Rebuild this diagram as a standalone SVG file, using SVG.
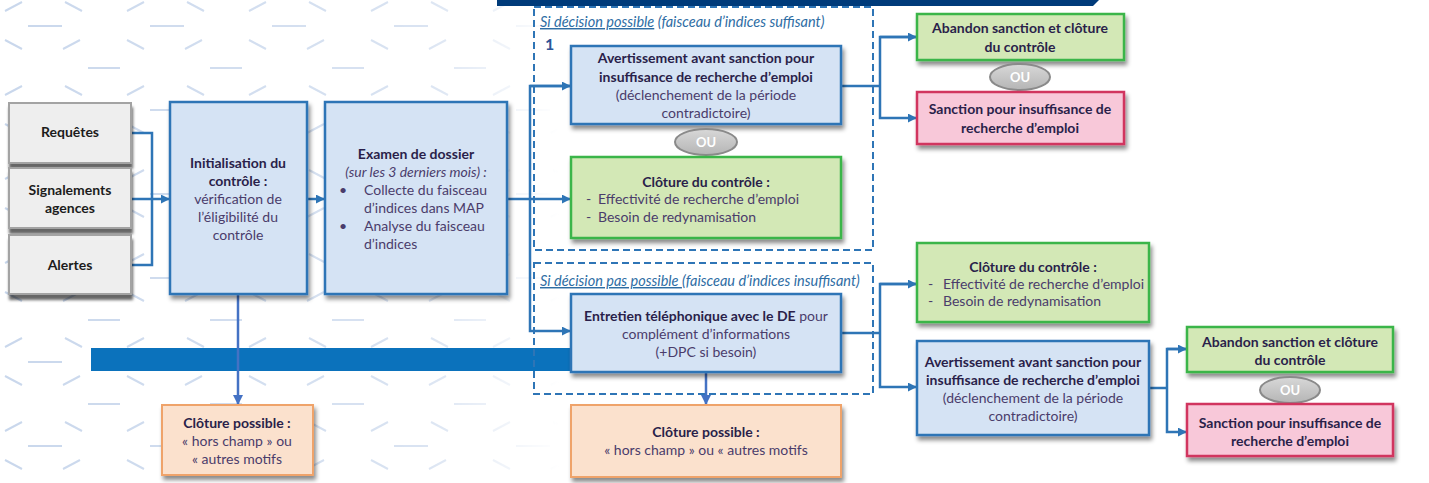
<svg xmlns="http://www.w3.org/2000/svg" width="1429" height="483" viewBox="0 0 1429 483">
<defs>
<style>
text{font-family:Lato,"Open Sans","Liberation Sans",sans-serif;font-size:14px;fill:#4a3c6b}
.b{font-weight:bold;fill:#2a1f4a}
.c{text-anchor:middle}
.g{fill:#1c1c1c;font-weight:bold}
.i{font-style:italic;font-size:14.5px;fill:#2e6da4}
.u{text-decoration:underline}
.gray{fill:#eeeeee;stroke:#a3a3a3;stroke-width:2}
.blue{fill:#d5e3f4;stroke:#2e75b6;stroke-width:2.5}
.green{fill:#d3e8b6;stroke:#3bb54a;stroke-width:2.5}
.pink{fill:#f8c8d9;stroke:#d1345f;stroke-width:2.5}
.peach{fill:#fbe1cd;stroke:#efa36a;stroke-width:2}
.dash{fill:none;stroke:#2e75b6;stroke-width:2;stroke-dasharray:7 4}
.con{fill:none;stroke:#2e75b6;stroke-width:2.5}
.ou{fill:url(#ouGrad);stroke:#8a8a8a;stroke-width:2}
.out{fill:#ffffff;font-weight:bold;font-size:13px;text-anchor:middle}
</style>
<filter id="sh" x="-10%" y="-10%" width="125%" height="135%">
<feDropShadow dx="2" dy="4" stdDeviation="2" flood-color="#000" flood-opacity="0.45"/>
</filter>
<filter id="shg" x="-10%" y="-10%" width="125%" height="140%">
<feDropShadow dx="1" dy="5" stdDeviation="1.5" flood-color="#000" flood-opacity="0.6"/>
</filter>
<linearGradient id="ouGrad" x1="0" y1="0" x2="0" y2="1">
<stop offset="0" stop-color="#d8d8d8"/>
<stop offset="1" stop-color="#b5b5b5"/>
</linearGradient>
<marker id="ar" viewBox="0 0 10 10" refX="9" refY="5" markerWidth="3.6" markerHeight="3.6" orient="auto" markerUnits="strokeWidth">
<path d="M0,0 L10,5 L0,10 z" fill="#2e75b6"/>
</marker>
<marker id="ar2" viewBox="0 0 10 10" refX="9" refY="5" markerWidth="4" markerHeight="4" orient="auto" markerUnits="strokeWidth">
<path d="M0,0 L10,5 L0,10 z" fill="#4472c4"/>
</marker>
<pattern id="chev" x="0" y="0" width="122" height="84" patternUnits="userSpaceOnUse">
<g stroke="#c9d7ec" stroke-width="2" fill="none">
<line x1="5" y1="11" x2="22" y2="2"/>
<line x1="65" y1="2" x2="82" y2="11"/>
<line x1="28" y1="26" x2="62" y2="26"/>
<line x1="5" y1="40" x2="22" y2="49"/>
<line x1="63" y1="49" x2="80" y2="40"/>
<line x1="88" y1="68" x2="120" y2="68"/>
</g>
</pattern>
<linearGradient id="fadeG" x1="0" y1="0" x2="1" y2="0">
<stop offset="0" stop-color="#fff" stop-opacity="1"/>
<stop offset="0.75" stop-color="#fff" stop-opacity="0.7"/>
<stop offset="1" stop-color="#fff" stop-opacity="0"/>
</linearGradient>
<mask id="fade">
<rect x="0" y="0" width="560" height="483" fill="url(#fadeG)"/>
</mask>
</defs>

<rect x="0" y="0" width="1429" height="483" fill="#ffffff"/>
<g id="background">
<rect x="0" y="0" width="560" height="483" fill="url(#chev)" mask="url(#fade)"/>
<polygon points="497,0 1099,0 1093,6 497,6" fill="#003b7a"/>
<rect x="91" y="348" width="482" height="23" fill="#0b72bc"/>
</g>

<g id="groups">
<g id="group-possible">
<rect class="dash" x="534" y="7" width="339" height="243"/>
<text x="540" y="27" class="i"><tspan class="u">Si décision possible</tspan> (faisceau d’indices suffisant)</text>
<text x="545" y="50" style="font-size:16px;font-weight:bold;fill:#2e5597">1</text>
</g>
<g id="group-pas-possible">
<rect class="dash" x="534" y="263" width="339" height="131"/>
<text x="540" y="286" class="i"><tspan class="u">Si décision pas possible </tspan>(faisceau d’indices insuffisant)</text>
</g>
</g>

<g id="connectors">
<polyline class="con" points="131,133 152,133 152,265 131,265"/>
<line class="con" x1="131" y1="199" x2="169" y2="199" marker-end="url(#ar)"/>
<line class="con" x1="307" y1="199" x2="324" y2="199" marker-end="url(#ar)"/>
<line class="con" x1="507" y1="199" x2="570" y2="199" marker-end="url(#ar)"/>
<polyline class="con" points="570,86 530,86 530,331 570,331" marker-end="url(#ar)"/>
<line class="con" x1="530" y1="86" x2="570" y2="86" marker-end="url(#ar)"/>
<polyline class="con" points="841,86 880,86"/>
<polyline class="con" points="916,37 880,37 880,118 916,118" marker-end="url(#ar)"/>
<line class="con" x1="880" y1="37" x2="916" y2="37" marker-end="url(#ar)"/>
<line class="con" x1="841" y1="333" x2="880" y2="333"/>
<polyline class="con" points="916,284 880,284 880,387 916,387" marker-end="url(#ar)"/>
<line class="con" x1="880" y1="284" x2="916" y2="284" marker-end="url(#ar)"/>
<line class="con" x1="1149" y1="388" x2="1167" y2="388"/>
<polyline class="con" points="1186,349 1167,349 1167,432 1186,432" marker-end="url(#ar)"/>
<line class="con" x1="1167" y1="349" x2="1186" y2="349" marker-end="url(#ar)"/>
<line x1="238" y1="294" x2="238" y2="404" stroke="#4472c4" stroke-width="2.5" marker-end="url(#ar2)"/>
<line x1="706" y1="372" x2="706" y2="404" stroke="#4472c4" stroke-width="2.5" marker-end="url(#ar2)"/>
</g>

<g id="n-requetes">
<rect class="gray" x="9" y="103" width="122" height="60" filter="url(#shg)"/>
<text x="70" y="137" class="g c">Requêtes</text>
</g>
<g id="n-signalements">
<rect class="gray" x="9" y="168" width="122" height="60" filter="url(#shg)"/>
<text x="70" y="195" class="g c">Signalements</text>
<text x="70" y="213" class="g c">agences</text>
</g>
<g id="n-alertes">
<rect class="gray" x="9" y="235" width="122" height="59" filter="url(#shg)"/>
<text x="70" y="270" class="g c">Alertes</text>
</g>

<g id="n-initialisation">
<rect class="blue" x="170" y="102" width="137" height="192" filter="url(#sh)"/>
<text x="238" y="168" class="b c">Initialisation du</text>
<text x="238" y="186" class="b c">contrôle :</text>
<text x="238" y="204" class="c">vérification de</text>
<text x="238" y="222" class="c">l’éligibilité du</text>
<text x="238" y="240" class="c">contrôle</text>
</g>

<g id="n-examen">
<rect class="blue" x="325" y="102" width="182" height="192" filter="url(#sh)"/>
<text x="416" y="159" class="b c">Examen de dossier</text>
<text x="416" y="177" class="c" style="font-style:italic">(sur les 3 derniers mois) :</text>
<text x="339" y="195">•</text>
<text x="364" y="195">Collecte du faisceau</text>
<text x="364" y="213">d’indices dans MAP</text>
<text x="339" y="231">•</text>
<text x="364" y="231">Analyse du faisceau</text>
<text x="364" y="249">d’indices</text>
</g>

<g id="n-cloture-possible-1">
<rect class="peach" x="162" y="405" width="151" height="70" filter="url(#sh)"/>
<text x="237" y="428" class="b c">Clôture possible :</text>
<text x="237" y="446" class="c">« hors champ » ou</text>
<text x="237" y="464" class="c">« autres motifs</text>
</g>

<g id="n-avertissement-1">
<rect class="blue" x="571" y="46" width="270" height="78" filter="url(#sh)"/>
<text x="706" y="63" class="b c">Avertissement avant sanction pour</text>
<text x="706" y="82" class="b c">insuffisance de recherche d’emploi</text>
<text x="706" y="100" class="c">(déclenchement de la période</text>
<text x="706" y="118" class="c">contradictoire)</text>
</g>
<g id="n-ou-1">
<ellipse class="ou" cx="706" cy="142" rx="31" ry="13"/>
<text x="706" y="146.5" class="out">OU</text>
</g>
<g id="n-cloture-1">
<rect class="green" x="571" y="157" width="270" height="81" filter="url(#sh)"/>
<text x="706" y="187" class="b c">Clôture du contrôle :</text>
<text x="586" y="204">-</text>
<text x="598" y="204">Effectivité de recherche d’emploi</text>
<text x="586" y="222">-</text>
<text x="598" y="222">Besoin de redynamisation</text>
</g>

<g id="n-entretien">
<rect class="blue" x="571" y="294" width="270" height="78" filter="url(#sh)"/>
<text x="706" y="321" class="c"><tspan class="b">Entretien téléphonique avec le DE</tspan> pour</text>
<text x="706" y="339" class="c">complément d’informations</text>
<text x="706" y="357" class="c">(+DPC si besoin)</text>
</g>

<g id="n-cloture-possible-2">
<rect class="peach" x="571" y="405" width="270" height="72" filter="url(#sh)"/>
<text x="706" y="437" class="b c">Clôture possible :</text>
<text x="706" y="455" class="c">« hors champ » ou « autres motifs</text>
</g>

<g id="n-abandon-1">
<rect class="green" x="917" y="14" width="207" height="46" filter="url(#sh)"/>
<text x="1020" y="33" class="b c">Abandon sanction et clôture</text>
<text x="1020" y="52" class="b c">du contrôle</text>
</g>
<g id="n-ou-2">
<ellipse class="ou" cx="1020" cy="77" rx="30" ry="13"/>
<text x="1020" y="81.5" class="out">OU</text>
</g>
<g id="n-sanction-1">
<rect class="pink" x="917" y="92" width="207" height="52" filter="url(#sh)"/>
<text x="1020" y="114" class="b c">Sanction pour insuffisance de</text>
<text x="1020" y="133" class="b c">recherche d’emploi</text>
</g>

<g id="n-cloture-2">
<rect class="green" x="917" y="243" width="232" height="79" filter="url(#sh)"/>
<text x="1033" y="272" class="b c">Clôture du contrôle :</text>
<text x="928" y="289">-</text>
<text x="943" y="289">Effectivité de recherche d’emploi</text>
<text x="928" y="306">-</text>
<text x="943" y="306">Besoin de redynamisation</text>
</g>

<g id="n-avertissement-2">
<rect class="blue" x="917" y="341" width="232" height="94" filter="url(#sh)"/>
<text x="1033" y="367" class="b c">Avertissement avant sanction pour</text>
<text x="1033" y="385" class="b c">insuffisance de recherche d’emploi</text>
<text x="1033" y="403" class="c">(déclenchement de la période</text>
<text x="1033" y="421" class="c">contradictoire)</text>
</g>

<g id="n-abandon-2">
<rect class="green" x="1187" y="327" width="206" height="45" filter="url(#sh)"/>
<text x="1290" y="347" class="b c">Abandon sanction et clôture</text>
<text x="1290" y="365" class="b c">du contrôle</text>
</g>
<g id="n-ou-3">
<ellipse class="ou" cx="1290" cy="390" rx="30" ry="13"/>
<text x="1290" y="394.5" class="out">OU</text>
</g>
<g id="n-sanction-2">
<rect class="pink" x="1187" y="404" width="206" height="52" filter="url(#sh)"/>
<text x="1290" y="428" class="b c">Sanction pour insuffisance de</text>
<text x="1290" y="446" class="b c">recherche d’emploi</text>
</g>
</svg>
